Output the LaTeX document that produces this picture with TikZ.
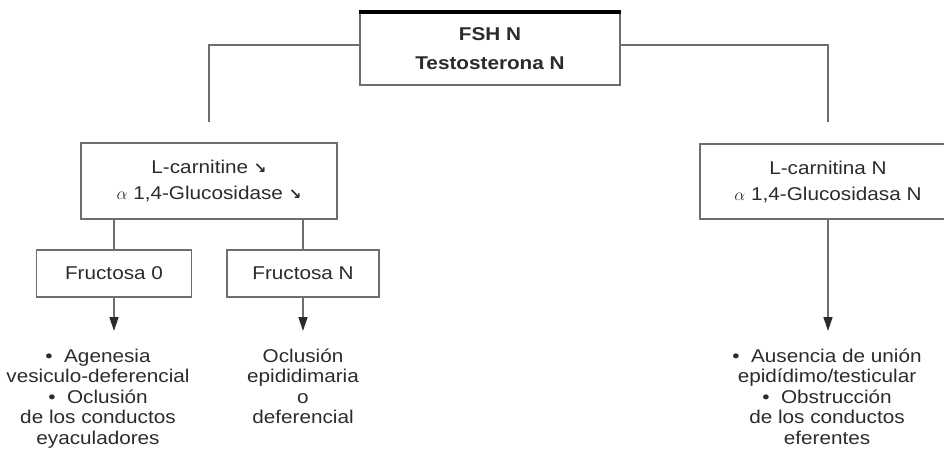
\documentclass[tikz,border=0pt]{standalone}
\usepackage{fontspec}
\setmainfont{Liberation Sans}[FakeStretch=1.12]
\newfontfamily\arrowfont{DejaVu Sans}
\usetikzlibrary{arrows.meta, positioning}

\definecolor{linegray}{HTML}{6E6E6E}
\definecolor{textgray}{HTML}{2B2B2B}
\newcommand{\dnarrow}{{\arrowfont\fontsize{15}{15}\selectfont\bfseries ↘}}

\tikzset{
  box/.style={draw=linegray, line width=1.5pt, align=center, text=textgray,
    inner sep=0pt, font=\fontsize{18.5}{26}\selectfont},
  link/.style={draw=linegray, line width=1.5pt},
  arr/.style={link, -{Triangle[length=14pt, width=9pt, color=textgray]}},
  note/.style={align=center, text=textgray, inner xsep=0pt, inner ysep=17.5pt,
    font=\fontsize{18.5}{20.5}\selectfont}
}

\begin{document}
\begin{tikzpicture}[x=1pt, y=-1pt]
    \useasboundingbox (0,0) rectangle (944,468);

    % Hormones
    \node[box, minimum width=260pt, minimum height=72pt,
      font=\bfseries\fontsize{18.5}{29}\selectfont] (top) at (490,49) {FSH N\\Testosterona N};
    \draw[line width=4pt] (top.north west) -- (top.north east);

    % Markers
    \node[box, minimum width=256pt, minimum height=76pt] (lcar) at (209,181)
      {L-carnitine \dnarrow\\$\alpha$ 1,4-Glucosidase \dnarrow};
    \node[box, minimum width=256pt, minimum height=75pt] (rcar) at (828,181.5)
      {L-carnitina N\\$\alpha$ 1,4-Glucosidasa N};

    % Fructose
    \node[box, minimum width=155pt, minimum height=47pt] (fr0) at (114,273.5) {Fructosa 0};
    \node[box, minimum width=152pt, minimum height=47pt] (frN) at (303,273.5) {Fructosa N};

    % Diagnoses
    \node[note, anchor=north] (dxL) at (98,331)
      {•\ \ Agenesia\\vesiculo-deferencial\\•\ \ Oclusión\\de los conductos\\eyaculadores};
    \node[note, anchor=north] (dxM) at (303,331)
      {Oclusión\\epididimaria\\o\\deferencial};
    \node[note, anchor=north] (dxR) at (827,331)
      {•\ \ Ausencia de unión\\epidídimo/testicular\\•\ \ Obstrucción\\de los conductos\\eferentes};

    % Branch ends
    \coordinate (lend) at (209,122);
    \coordinate (rend) at (828,122);

    % Lines
    \draw[link] (top.west) ++(0,-4) -| (lend);
    \draw[link] (top.east) ++(0,-4) -| (rend);
    \draw[link] (fr0.north |- lcar.south) -- (fr0.north);
    \draw[link] (frN.north |- lcar.south) -- (frN.north);

    % Arrows
    \draw[arr] (fr0.south) -- (fr0.south |- dxL.north);
    \draw[arr] (frN.south) -- (dxM.north);
    \draw[arr] (rcar.south) -- (rcar.south |- dxR.north);
  \end{tikzpicture}
\end{document}
